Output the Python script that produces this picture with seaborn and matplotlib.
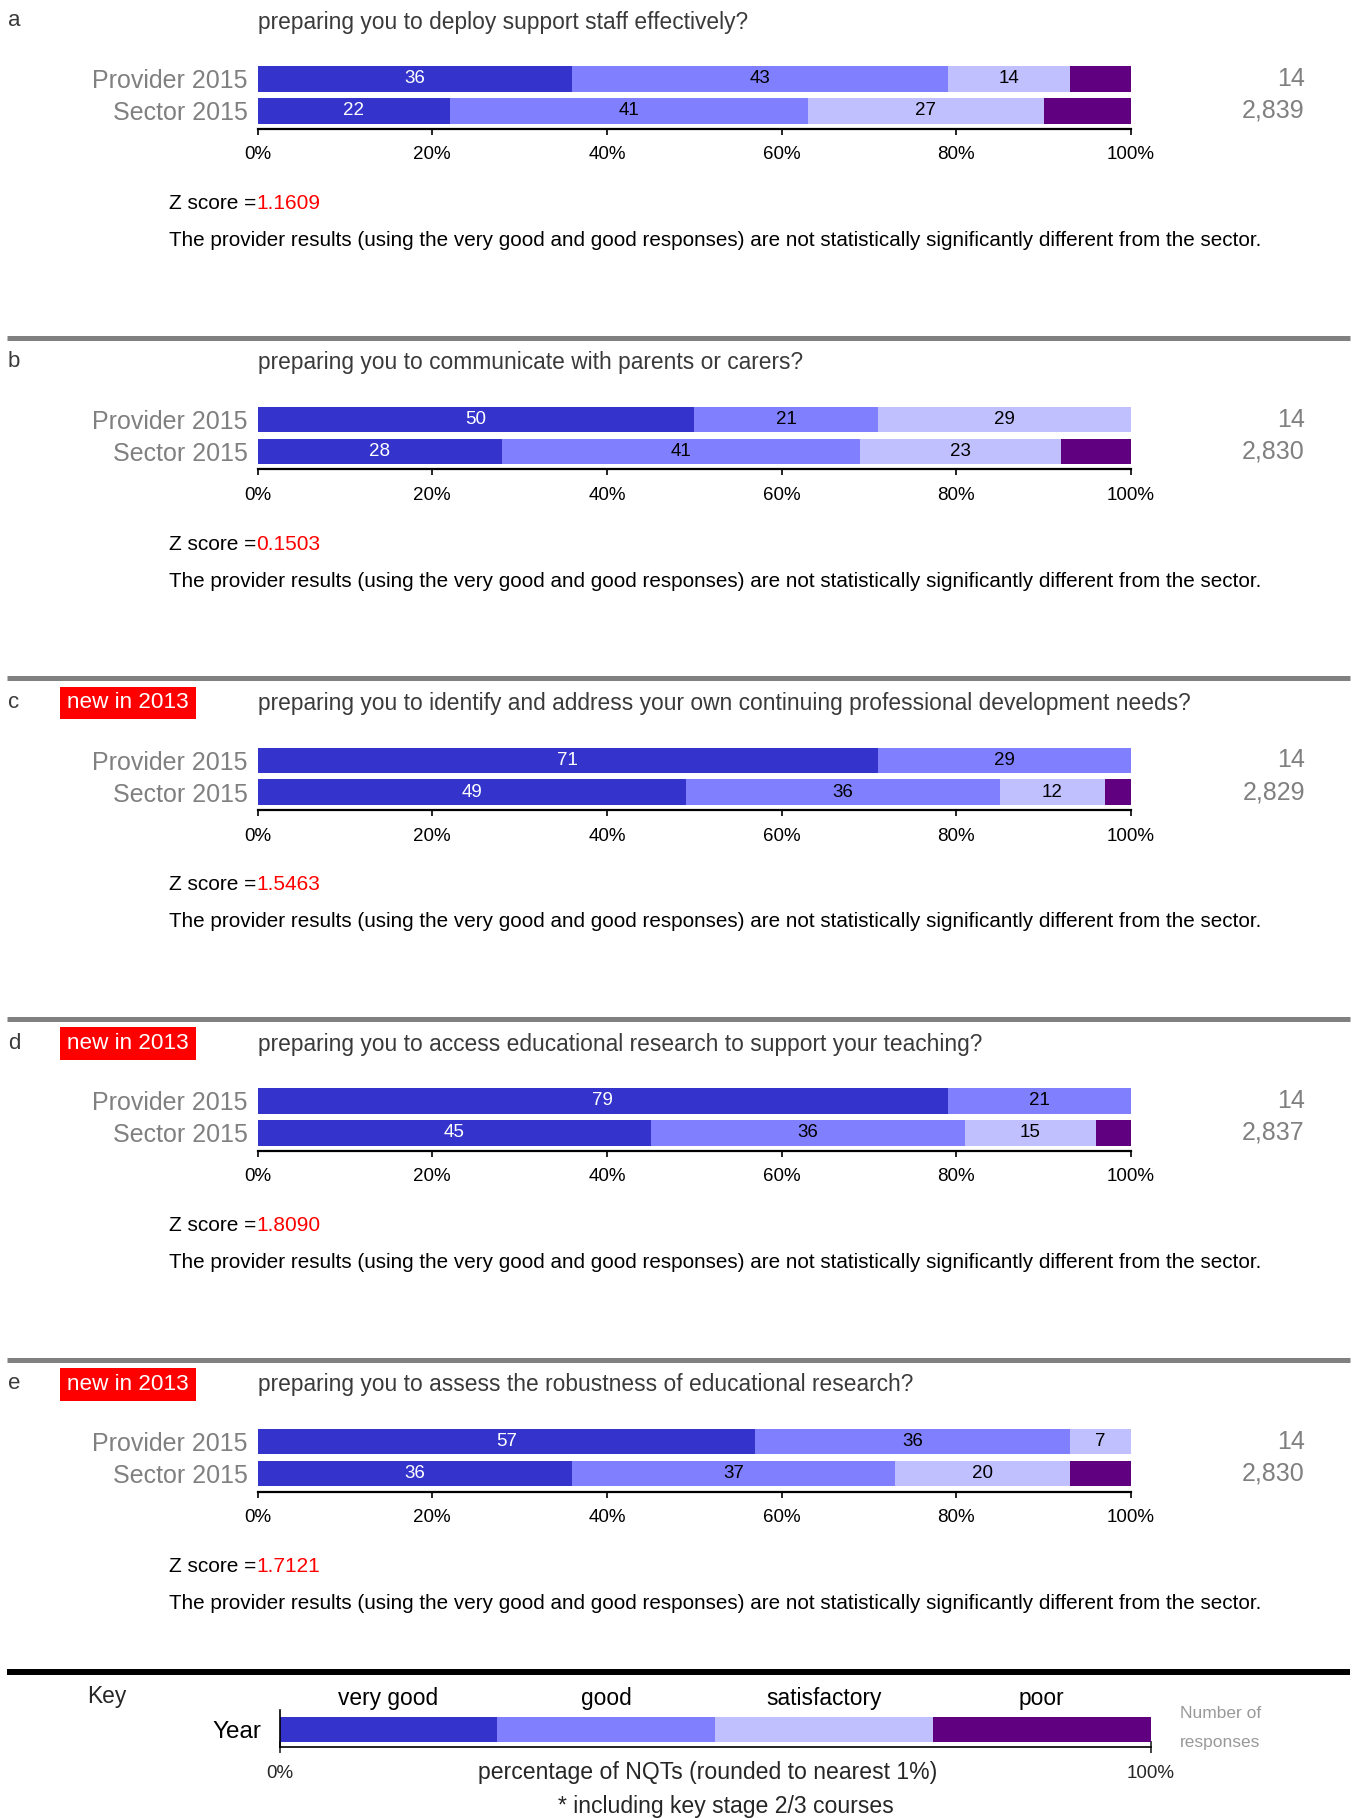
import numpy as np
import pandas as pd
import matplotlib
matplotlib.use("Agg")
import matplotlib.pyplot as plt
import seaborn as sns
from matplotlib.lines import Line2D
from matplotlib.patches import Rectangle
from matplotlib.transforms import blended_transform_factory

# --------------------------
# DATA
# --------------------------
LETTERS = ["a", "b", "c", "d", "e"]
QUESTIONS = [
    "preparing you to deploy support staff effectively?",
    "preparing you to communicate with parents or carers?",
    "preparing you to identify and address your own continuing professional development needs?",
    "preparing you to access educational research to support your teaching?",
    "preparing you to assess the robustness of educational research?",
]
NEW_IN_2013 = [False, False, True, True, True]
GROUPS = ["Provider 2015", "Sector 2015"]
RATINGS = ["very good", "good", "satisfactory", "poor"]

# very good, good, satisfactory, poor (%)
PROVIDER = [[36, 43, 14, 7], [50, 21, 29, 0], [71, 29, 0, 0], [79, 21, 0, 0], [57, 36, 7, 0]]
SECTOR = [[22, 41, 27, 10], [28, 41, 23, 8], [49, 36, 12, 3], [45, 36, 15, 4], [36, 37, 20, 7]]
PROVIDER_N = ["14", "14", "14", "14", "14"]
SECTOR_N = ["2,839", "2,830", "2,829", "2,837", "2,830"]
Z_SCORES = ["1.1609", "0.1503", "1.5463", "1.8090", "1.7121"]
KEY_SHARES = [25, 25, 25, 25]
X_TICKS = [0, 20, 40, 60, 80, 100]

SENTENCE = ("The provider results (using the very good and good responses) "
            "are not statistically significantly different from the sector.")

# --------------------------
# STYLE / LAYOUT (pixels of the 1357x1818 image)
# --------------------------
COLORS = ["#3434cc", "#8080ff", "#c0c0ff", "#600080"]
GRAY = "#808080"
DARK = "#3a3a3a"
W, H = 1357, 1818
PANEL_STEP = 340.7

sns.set_style("white")
plt.rcParams["font.family"] = ["Liberation Sans", "DejaVu Sans"]

fig = plt.figure(figsize=(W / 100, H / 100), dpi=100)


def fx(px):
    return px / W


def fy(py):
    return 1 - py / H


def px_axes(left, top, right, bottom):
    return fig.add_axes([left / W, 1 - bottom / H, (right - left) / W, (bottom - top) / H])


def hline(y, color, lw):
    fig.add_artist(Line2D([fx(7), fx(1350)], [fy(y), fy(y)], transform=fig.transFigure,
                          color=color, lw=lw, solid_capstyle="butt"))


def stacked_bars(ax, rows, labels, show_values=True):
    """Stacked horizontal bars: cumulative layers drawn from the back"""
    vals = np.array(rows, dtype=float)
    cum = vals.cumsum(axis=1)
    for k in range(len(RATINGS) - 1, -1, -1):
        df = pd.DataFrame({"group": labels, "cum": cum[:, k]})
        sns.barplot(data=df, x="cum", y="group", orient="h", color=COLORS[k],
                    saturation=1, width=0.8, errorbar=None, linewidth=0, ax=ax)
    if show_values:
        for i in range(vals.shape[0]):
            for k in range(3):  # poor is never labelled
                v = vals[i, k]
                if v > 0:
                    ax.text(cum[i, k] - v / 2, i, f"{v:.0f}", ha="center", va="center",
                            fontsize=13.5, color="white" if k == 0 else "black")
    ax.set_xlabel("")
    ax.set_ylabel("")
    ax.set_xlim(0, 100)


renderer = fig.canvas.get_renderer()

# --------------------------
# PANELS
# --------------------------
for p in range(len(LETTERS)):
    top = p * PANEL_STEP

    fig.text(fx(8), fy(top + 21), LETTERS[p], fontsize=16, color=DARK, ha="left", va="center")
    fig.text(fx(257.5), fy(top + 22), QUESTIONS[p], fontsize=16.4, color=DARK, ha="left", va="center")

    if NEW_IN_2013[p]:
        fig.add_artist(Rectangle((fx(60), fy(top + 37.7)), fx(196) - fx(60), (37.7 - 5.2) / H,
                                 transform=fig.transFigure, facecolor="#ff0000", edgecolor="none"))
        fig.text(fx(128), fy(top + 21.6), "new in 2013", fontsize=16.2, color="white",
                 ha="center", va="center")

    ax = px_axes(257.5, top + 66.1, 1131, top + 128.8)
    stacked_bars(ax, [PROVIDER[p], SECTOR[p]], GROUPS)
    ax.set_ylim(1.566, -0.4)
    for side in ["top", "right", "left"]:
        ax.spines[side].set_visible(False)
    ax.spines["bottom"].set_linewidth(1.6)
    ax.spines["bottom"].set_color("black")
    ax.set_xticks(X_TICKS)
    ax.set_xticklabels([f"{t}%" for t in X_TICKS])
    ax.tick_params(axis="x", direction="out", length=4, width=1.2, colors="black",
                   labelsize=13.5, pad=8.5, bottom=True)
    ax.tick_params(axis="y", length=0, labelsize=18, labelcolor=GRAY, pad=7)

    tr = blended_transform_factory(ax.transAxes, ax.transData)
    for i, n in enumerate([PROVIDER_N[p], SECTOR_N[p]]):
        ax.text(1.199, i, n, transform=tr, ha="right", va="center", fontsize=18, color=GRAY)

    # Z score line: black label followed by red value
    zt = fig.text(fx(169), fy(top + 203.5), "Z score =", fontsize=15, color="black",
                  ha="left", va="center")
    bb = zt.get_window_extent(renderer)
    fig.text(bb.x1 / W, fy(top + 203.5), Z_SCORES[p], fontsize=15, color="#ff0000",
             ha="left", va="center")
    fig.text(fx(169), fy(top + 240.5), SENTENCE, fontsize=14.9, color="black",
             ha="left", va="center")

    if p < len(LETTERS) - 1:
        hline(top + 337.5, GRAY, 3.6)

hline(1671.5, "black", 4.3)

# --------------------------
# KEY
# --------------------------
fig.text(fx(107), fy(1697), "Key", fontsize=16.4, ha="center", va="center")
kax = px_axes(279.5, 1710, 1150.7, 1747)
stacked_bars(kax, [KEY_SHARES], ["Year"], show_values=False)
kax.set_ylim(0.56, -0.624)
kax.spines["top"].set_visible(False)
kax.spines["right"].set_visible(False)
for side in ["left", "bottom"]:
    kax.spines[side].set_linewidth(1.2)
    kax.spines[side].set_color("black")
kax.set_xticks([0, 100])
kax.set_xticklabels(["0%", "100%"])
kax.tick_params(axis="x", direction="inout", length=8, width=1.2, labelsize=13.5, pad=9, bottom=True)
kax.tick_params(axis="y", length=0, labelsize=17.5, labelcolor="black", pad=13)

key_cum = np.cumsum(KEY_SHARES)
for k, name in enumerate(RATINGS):
    mid = key_cum[k] - KEY_SHARES[k] / 2
    kax.text(mid, -1.0, name, ha="center", va="center", fontsize=16.4, color="black")

fig.text(fx(708), fy(1772), "percentage of NQTs (rounded to nearest 1%)", fontsize=16.6,
         ha="center", va="center")
fig.text(fx(726), fy(1806), "* including key stage 2/3 courses", fontsize=16.6,
         ha="center", va="center")
fig.text(fx(1180), fy(1714), "Number of", fontsize=12.5, color="#999999", ha="left", va="center")
fig.text(fx(1180), fy(1742), "responses", fontsize=12.5, color="#999999", ha="left", va="center")

fig.savefig("out.png", dpi=100)
